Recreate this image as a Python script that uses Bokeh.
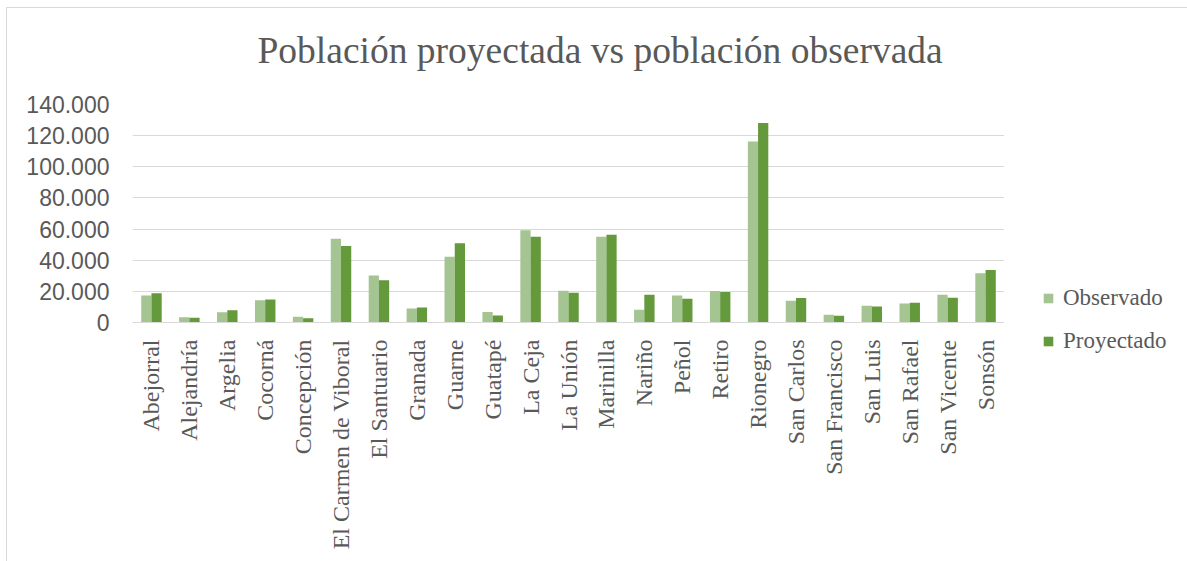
import math
from bokeh.plotting import figure
from bokeh.layouts import row
from bokeh.models import (ColumnDataSource, FactorRange, Range1d, Legend, LegendItem,
                          Title, FixedTicker)
from bokeh.transform import dodge
from bokeh.embed import file_html
from bokeh.resources import INLINE

municipios = ["Abejorral", "Alejandría", "Argelia", "Cocorná", "Concepción",
              "El Carmen de Viboral", "El Santuario", "Granada", "Guarne", "Guatapé",
              "La Ceja", "La Unión", "Marinilla", "Nariño", "Peñol", "Retiro",
              "Rionegro", "San Carlos", "San Francisco", "San Luis", "San Rafael",
              "San Vicente", "Sonsón"]
observado = [17400, 3400, 6600, 14350, 3650, 53800, 30200, 9000, 42300, 6700,
             59200, 20400, 55000, 8200, 17400, 20200, 116200, 14000, 5000, 10800,
             12200, 17800, 31600]
proyectado = [18850, 3000, 7900, 14800, 2800, 49100, 27200, 9650, 50900, 4500,
              55000, 19100, 56300, 17800, 15300, 19600, 128100, 15700, 4300, 10300,
              12700, 15900, 33700]
series = ["Observado", "Proyectado"]
y_ticks = [0, 20000, 40000, 60000, 80000, 100000, 120000, 140000]
y_tick_labels = ["0", "20.000", "40.000", "60.000", "80.000", "100.000", "120.000", "140.000"]

GRAY = "#595959"
C_OBS = "#A4C492"
C_PROY = "#64993C"

src = ColumnDataSource(dict(x=municipios, obs=observado, proy=proyectado))

p = figure(width=997, height=553, x_range=FactorRange(*municipios, range_padding=0),
           y_range=Range1d(0, 140000), output_backend="svg", toolbar_location=None,
           min_border_left=125, min_border_right=0, min_border_top=96,
           min_border_bottom=239, outline_line_color=None)

p.vbar(x=dodge("x", -0.135, range=p.x_range), top="obs", width=0.27, source=src,
       fill_color=C_OBS, line_color=None)
p.vbar(x=dodge("x", 0.135, range=p.x_range), top="proy", width=0.27, source=src,
       fill_color=C_PROY, line_color=None)

# blank spacer between frame and title, then the title itself
spacer = Title(text=" ", text_font_size="2px", standoff=30, text_color=GRAY)
p.add_layout(spacer, "above")
t = Title(text="Población proyectada vs población observada", align="left", offset=125,
          text_font="Liberation Serif", text_font_size="37.5px", text_font_style="normal",
          text_color=GRAY, standoff=0)
p.add_layout(t, "above")

p.xgrid.grid_line_color = None
p.ygrid.grid_line_color = "#D9D9D9"
p.ygrid.grid_line_width = 1

p.yaxis.ticker = FixedTicker(ticks=y_ticks)
p.yaxis.major_label_overrides = {tv: lab for tv, lab in zip(y_ticks, y_tick_labels)}
p.yaxis.axis_line_color = None
p.yaxis.major_tick_line_color = None
p.yaxis.minor_tick_line_color = None
p.yaxis.major_label_standoff = 17
p.yaxis.major_label_text_font = "Liberation Sans"
p.yaxis.major_label_text_font_size = "23px"
p.yaxis.major_label_text_color = GRAY

p.xaxis.axis_line_color = "#D9D9D9"
p.xaxis.major_tick_line_color = None
p.xaxis.minor_tick_line_color = None
p.xaxis.major_label_orientation = math.pi / 2
p.xaxis.major_label_standoff = 11
p.xaxis.major_label_text_font = "Liberation Serif"
p.xaxis.major_label_text_font_size = "24px"
p.xaxis.major_label_text_color = GRAY

# legend panel (separate area to the right of the plot)
q = figure(width=183, height=553, x_range=Range1d(0, 1), y_range=Range1d(0, 1),
           output_backend="svg", toolbar_location=None, x_axis_type=None, y_axis_type=None,
           min_border=0, outline_line_color=None)
q.grid.visible = False
for fig in (p, q):
    if "frame_align" in fig.properties():
        fig.frame_align = False
# zero-height swatch renderers (nothing visible is drawn; they only feed the legend)
swatch = ColumnDataSource(dict(x=[0.5], top=[0]))
k1 = q.vbar(x="x", top="top", width=0.01, source=swatch, fill_color=C_OBS, line_color=None)
k2 = q.vbar(x="x", top="top", width=0.01, source=swatch, fill_color=C_PROY, line_color=None)

legend = Legend(items=[LegendItem(label=series[0], renderers=[k1]),
                       LegendItem(label=series[1], renderers=[k2])],
                location=(38, 207), orientation="vertical",
                glyph_width=12, glyph_height=12, label_height=23, spacing=17,
                padding=0, margin=0, label_standoff=9,
                label_text_font="Liberation Serif", label_text_font_size="23px",
                label_text_color=GRAY, border_line_color=None, background_fill_alpha=0)
q.add_layout(legend, "center")

layout = row(p, q, spacing=0,
             styles={"margin-left": "6px", "margin-top": "7px",
                     "border-left": "1px solid #D9D9D9", "border-top": "1px solid #D9D9D9"})

open("out.html", "w").write(file_html(layout, INLINE))
